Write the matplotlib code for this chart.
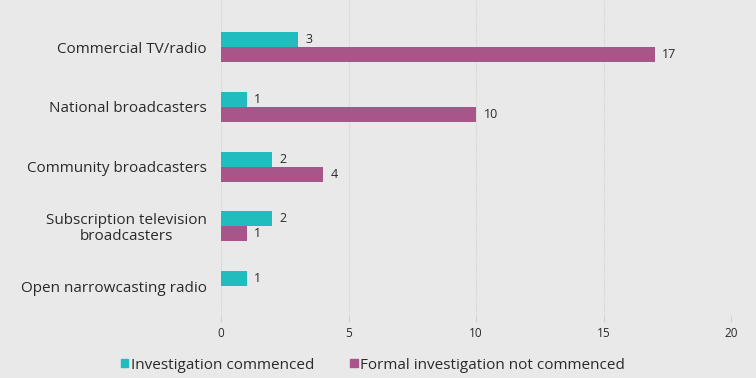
import matplotlib
matplotlib.use("Agg")
import matplotlib.pyplot as plt
import numpy as np
from matplotlib.patches import Patch

# data
categories = ["Commercial TV/radio", "National broadcasters", "Community broadcasters",
              "Subscription television\nbroadcasters", "Open narrowcasting radio"]
commenced = [3, 1, 2, 2, 1]
not_commenced = [17, 10, 4, 1, 0]
series_names = ["Investigation commenced", "Formal investigation not commenced"]
xticks = [0, 5, 10, 15, 20]

TEAL = "#20BCBE"
PURPLE = "#A8558A"
BG = "#E9E9E9"
TXT = "#2a2a2a"

plt.rcParams["font.family"] = ["Open Sans", "DejaVu Sans"]

fig = plt.figure(figsize=(7.56, 3.78), dpi=100, facecolor=BG)
ax = fig.add_axes([221 / 756, 1 - 316 / 378, 510 / 756, 316 / 378])
ax.set_facecolor(BG)

y = np.arange(len(categories))
h = 0.25
ax.barh(y - h / 2, commenced, height=h, color=TEAL)
ax.barh(y + h / 2, not_commenced, height=h, color=PURPLE)

for yi, v in zip(y, commenced):
    ax.text(v + 0.3, yi - h / 2, str(v), va="center", ha="left", fontsize=9, color=TXT)
for yi, v in zip(y, not_commenced):
    if v > 0:
        ax.text(v + 0.3, yi + h / 2, str(v), va="center", ha="left", fontsize=9, color=TXT)

ax.set_xlim(0, 20)
ax.set_ylim(4.5, -0.787)
ax.set_xticks(xticks)
ax.set_yticks(y)
ax.set_yticklabels(categories, fontsize=11, color=TXT, linespacing=1.05)
for lbl in ax.get_yticklabels():
    lbl.set_horizontalalignment("right")
    lbl.set_multialignment("center")
ax.tick_params(axis="y", length=0, pad=10)
ax.tick_params(axis="x", length=4, color="#d0d0d0", labelsize=8.5, labelcolor=TXT, pad=4)
ax.grid(True, axis="x", color="#d2d2d2", ls=(0, (1, 1)), lw=0.8)
ax.set_axisbelow(True)
for s in ax.spines.values():
    s.set_visible(False)

handles = [Patch(color=TEAL), Patch(color=PURPLE)]
fig.legend(handles, series_names, loc="lower left", bbox_to_anchor=(107 / 756, -0.022),
           ncol=2, frameon=False, fontsize=11, handlelength=0.5, handleheight=0.5,
           handletextpad=0.15, columnspacing=2.35, labelcolor=TXT)

fig.savefig("out.png", dpi=100, facecolor=BG)
